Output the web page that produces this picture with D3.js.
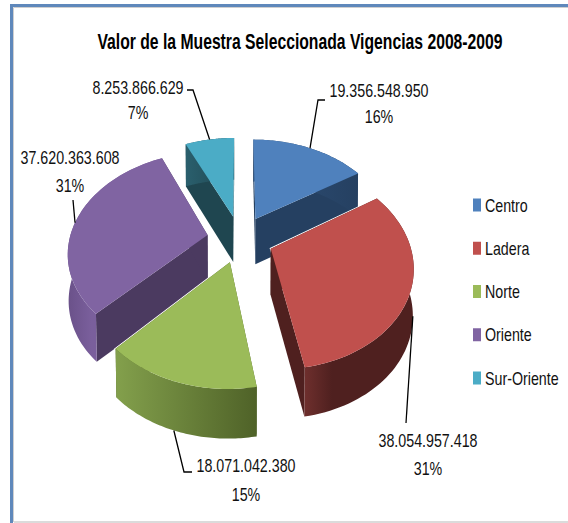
<!DOCTYPE html>
<html>
<head>
<meta charset="utf-8">
<script src="https://cdn.jsdelivr.net/npm/d3@7"></script>
<style>
  html, body { margin: 0; background: #fff; }
  text { font-family: "Liberation Sans", sans-serif; fill: #111; }
</style>
</head>
<body>
<div id="chart"></div>
<script>
const categories = ['Centro', 'Ladera', 'Norte', 'Oriente', 'Sur-Oriente'];
const values = [19356548950, 38054957418, 18071042380, 37620363608, 8253866629];
const value_labels = ['19.356.548.950', '38.054.957.418', '18.071.042.380', '37.620.363.608', '8.253.866.629'];
const percent_labels = ['16%', '31%', '15%', '31%', '7%'];

const top_colors = ['#4f81bd', '#c0504d', '#9bbb59', '#8064a2', '#4bacc6'];
const wall_colors = ['#254061', '#4f201f', '#4f6228', '#4b3a60', '#1f4650'];
const side_light = ['#2f5078', '#6e2f2d', '#83a04c', '#6a5189', '#2a5f6d'];
const side_dark = ['#254061', '#4f201f', '#4f6228', '#7a5f9c', '#1f4650'];
const side_stop = [1, 0.25, 1, 0.25, 1];

// label placement, one per category
const label_pos = [
  { x: 379, y: 90, dy: 26 },
  { x: 428, y: 440, dy: 28 },
  { x: 246, y: 465, dy: 29 },
  { x: 70, y: 157, dy: 28 },
  { x: 138, y: 87, dy: 25 }
];
// leader lines run from the slice rim (share along the slice) through these bends
const leader_bends = [
  [[318, 100], [325, 100]],
  [[406, 423]],
  [[184, 472], [192, 472]],
  [[73, 200]],
  [[193, 90], [187, 90]]
];
const leader_angle = [0.5, 0.39, 0.53, 0.48, 0.5];

const width = 568;
const height = 523;
const cx = 240;
const cy = 239;
const rx = 138;
const ry = 98;
const persp = 0.16;
const explode = 0.24;
const depth = 46;
// the installed fonts are wider than the original one
const squeeze = 0.75;

const svg = d3.select('#chart')
  .append('svg')
  .attr('width', width)
  .attr('height', height);

// frame of the pasted picture
svg.append('path')
  .attr('d', d3.line()([[13.5, 522], [13.5, 7.5], [568, 7.5]]))
  .attr('fill', 'none')
  .attr('stroke', '#cfcfcf')
  .attr('stroke-width', 1);
svg.append('path')
  .attr('d', d3.line()([[11.5, 523], [11.5, 5.5], [568, 5.5]]))
  .attr('fill', 'none')
  .attr('stroke', '#5f88bb')
  .attr('stroke-width', 3);
svg.append('line')
  .attr('x1', 14).attr('x2', 568)
  .attr('y1', 522).attr('y2', 522)
  .attr('stroke', '#cfcfcf')
  .attr('stroke-width', 1.5);

const pie = d3.pie().sort(null).value((d) => d);
const slices = pie(values).map((d, i) => ({ ...d, i }));

// disc coordinates to screen, level 0 is the top face, level 1 the bottom
function project (u, v, level) {
  const w = 1 - persp * v + 0.005 * level;
  return [
    cx + rx * u / w,
    cy + ry * v / w + depth * level * (1 + 0.08 * v)
  ];
}

function rim_point (d, angle, level) {
  const mid = (d.startAngle + d.endAngle) / 2;
  return project(
    explode * Math.sin(mid) + Math.sin(angle),
    -explode * Math.cos(mid) - Math.cos(angle),
    level
  );
}

function apex_point (d, level) {
  const mid = (d.startAngle + d.endAngle) / 2;
  return project(explode * Math.sin(mid), -explode * Math.cos(mid), level);
}

function arc_points (d, level) {
  const n = 60;
  return d3.range(n + 1).map((k) =>
    rim_point(d, d.startAngle + (d.endAngle - d.startAngle) * k / n, level));
}

const poly = d3.line().curve(d3.curveLinearClosed);

const defs = svg.append('defs');
slices.forEach((d) => {
  const grad = defs.append('linearGradient')
    .attr('id', `side_${d.i}`)
    .attr('gradientUnits', 'userSpaceOnUse');
  const xs = arc_points(d, 0).map((p) => p[0]);
  grad.attr('x1', d3.min(xs)).attr('x2', d3.max(xs)).attr('y1', 0).attr('y2', 0);
  // left end of the wall catches the light
  grad.append('stop').attr('offset', 0).attr('stop-color', side_light[d.i]);
  grad.append('stop').attr('offset', side_stop[d.i]).attr('stop-color', side_dark[d.i]);
});

// paint back to front
const draw_order = slices.slice().sort((a, b) => apex_point(a, 0)[1] - apex_point(b, 0)[1]);

draw_order.forEach((d) => {
  const g = svg.append('g');
  const top_arc = arc_points(d, 0);
  const bottom_arc = arc_points(d, 1);
  const apex_top = apex_point(d, 0);
  const apex_bottom = apex_point(d, 1);
  const top_face = poly([apex_top].concat(top_arc));

  // thin white edge where a slice lies over its neighbour
  g.append('path')
    .attr('d', top_face)
    .attr('fill', 'none')
    .attr('stroke', '#fff')
    .attr('stroke-width', 2);
  g.append('path')
    .attr('d', poly([apex_top, top_arc[0], bottom_arc[0], apex_bottom]))
    .attr('fill', wall_colors[d.i]);
  g.append('path')
    .attr('d', poly([apex_top, top_arc[top_arc.length - 1], bottom_arc[bottom_arc.length - 1], apex_bottom]))
    .attr('fill', wall_colors[d.i]);
  g.append('path')
    .attr('d', poly(top_arc.concat(bottom_arc.slice().reverse())))
    .attr('fill', `url(#side_${d.i})`);
  g.append('path')
    .attr('d', top_face)
    .attr('fill', top_colors[d.i]);
});

// leader lines
slices.forEach((d) => {
  const angle = d.startAngle + (d.endAngle - d.startAngle) * leader_angle[d.i];
  const level = (d.i === 1 || d.i === 2) ? 1 : 0;
  svg.append('path')
    .attr('d', d3.line()([rim_point(d, angle, level)].concat(leader_bends[d.i])))
    .attr('fill', 'none')
    .attr('stroke', '#000')
    .attr('stroke-width', 1.3);
});

function add_text (x, y, str, size, anchor, x_scale) {
  return svg.append('text')
    .attr('transform', `translate(${x}, ${y}) scale(${x_scale}, 1)`)
    .attr('dy', '.35em')
    .attr('text-anchor', anchor)
    .attr('font-size', size)
    .text(str);
}

// data labels
slices.forEach((d) => {
  const p = label_pos[d.i];
  add_text(p.x, p.y, value_labels[d.i], 19, 'middle', squeeze);
  add_text(p.x, p.y + p.dy, percent_labels[d.i], 19, 'middle', squeeze);
});

// title
add_text(300, 41, 'Valor de la Muestra Seleccionada Vigencias 2008-2009', 22, 'middle', 0.715)
  .attr('font-weight', 'bold')
  .style('fill', '#000');

// handmade legend
const legend_y = d3.scalePoint().domain(categories).range([205, 378]);
categories.forEach((name, i) => {
  svg.append('rect')
    .attr('x', 473).attr('y', legend_y(name) - 6.5)
    .attr('width', 8).attr('height', 13)
    .attr('fill', top_colors[i]);
  add_text(485, legend_y(name), name, 19, 'start', squeeze);
});
</script>
</body>
</html>
